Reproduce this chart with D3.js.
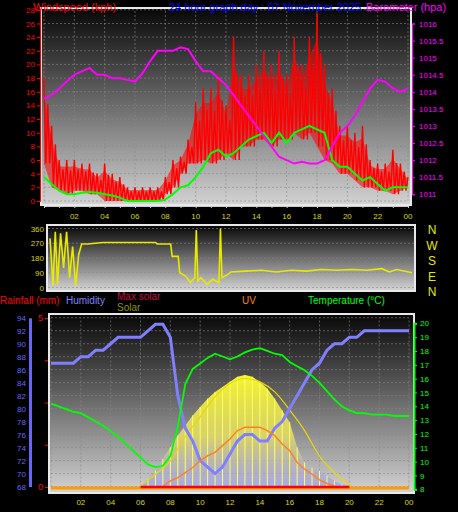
<!DOCTYPE html>
<html><head><meta charset="utf-8">
<script src="https://cdn.jsdelivr.net/npm/d3@7"></script>
<style>body{margin:0;background:#000}svg{display:block;font-family:"Liberation Sans",Arial,sans-serif}</style>
</head><body><div id="chart"></div>
<script>
// half-hourly samples 00:00 .. 24:00
const hours = d3.range(0, 24.01, 0.5);
const gustHi = [18,11,6,6,6,5.5,5.5,4,5.5,4,3.5,2,2,2,2,2,3.5,6,6.5,9,14.5,16.5,16.5,18.5,14,24,18.5,18.5,20,22,20,22,18.5,24,20,24,27.5,20,16.5,11,11,10,11,6,5.5,5.5,7.5,5.5,3.5];
const gustLo = [5.5,2,1.5,1,1.5,1.5,1,1,0,0,0,0,0,0,0,0,1,2,4,5.5,5.5,6,5.5,6,7,6,8,8,9,9,8,9,9,10,9,10,8,6,5.5,4,4,3,2,2,1.5,1.5,1,1.5,2];
const windAvg = [3.5,2.5,1.5,1,1,1.2,1.3,1.2,1,0.8,0.5,0,0,0,0,0,0.2,1,2,2.3,3.5,5,7,7.5,6.5,7,8,9,9.5,10,8.5,10,8.5,10,10.5,11,10.5,10,6,5,5,4,3,3.5,2.5,1.5,2,2,2];
const baro = [1013.8,1013.9,1014.1,1014.3,1014.5,1014.6,1014.7,1014.5,1014.5,1014.4,1014.4,1014.35,1014.3,1014.55,1014.9,1015.2,1015.2,1015.2,1015.3,1015.25,1014.9,1014.6,1014.6,1014.4,1014.2,1013.9,1013.6,1013.3,1013.0,1012.7,1012.4,1012.1,1012.0,1011.9,1011.95,1011.9,1011.9,1012.0,1012.4,1012.8,1013.0,1013.3,1013.7,1014.1,1014.35,1014.3,1014.1,1014.0,1014.1];
const dirTimes = [0,0.2,0.35,0.5,0.7,0.9,1.1,1.3,1.5,1.7,1.9,2.1,2.5,3,3.5,4,5,6,7,7.1,8,8.1,8.5,8.6,9,9.3,9.6,9.7,9.8,10,10.4,10.8,11.2,11.3,11.4,11.8,12,13,14,15,16,17,18,19,20,21,22,22.5,23,24];
const dirVals = [300,10,340,20,330,120,340,60,250,10,200,265,265,270,275,275,275,275,275,265,265,190,190,90,70,30,60,350,40,60,20,50,30,360,60,80,95,100,105,95,105,100,110,105,110,105,115,95,110,90];
const humidity = [87,87,87,87,88,88,89,89,90,91,91,91,91,92,93,93,91,82,77,75,72,71,70,71,73,75,76,76,75,75,77,78,80,82,84,86,87,89,90,90,91,91,92,92,92,92,92,92,92];
const temperature = [14.2,14.0,13.8,13.6,13.5,13.2,12.9,12.6,12.2,11.8,11.3,10.8,10.3,9.8,9.6,9.7,10.4,12.5,15.6,16.7,17.1,17.5,17.8,17.6,17.4,17.6,17.9,18.1,18.2,18.0,17.8,17.7,17.2,16.9,16.6,16.2,15.7,15.1,14.5,14.0,13.7,13.5,13.5,13.4,13.4,13.4,13.3,13.3,13.3];
const solarTimes = [6,6.5,7,7.5,8,8.5,9,9.5,10,10.5,11,11.5,12,12.5,13,13.5,14,14.5,15,15.5,16,16.5,17,17.5,18,18.5,19,19.5,20];
const solar = [5,40,90,160,230,300,360,420,470,520,560,590,620,650,660,650,620,580,520,450,380,230,140,110,90,60,30,10,0];
const maxSolarTimes = [6,7,8,9,10,11,12,13,14,15,16,17,18,19,20,20.2];
const maxSolar = [0,70,150,293,412,530,610,640,620,560,452,330,178,79,10,0];
const uvTimes = [7.5,8,8.5,9,9.5,10,10.5,11,11.5,12,12.5,13,13.5,14,14.5,15,15.5,16,16.5,17,17.5,18,18.5,19];
const uv = [0,0.3,0.5,0.8,1.1,1.5,1.8,2.0,2.4,2.8,3.3,3.5,3.5,3.5,3.3,3.0,2.5,2.1,1.4,1.0,0.7,0.36,0.15,0];
const hourTicks = [2,4,6,8,10,12,14,16,18,20,22,24];
const windTicks = [0,2,4,6,8,10,12,14,16,18,20,22,24,26,28];
const baroTicks = [1011,1011.5,1012,1012.5,1013,1013.5,1014,1014.5,1015,1015.5,1016];
const dirTicks = [0,90,180,270,360];
const compass = ["N","W","S","E","N"];
const humTicks = [68,70,72,74,76,78,80,82,84,86,88,90,92,94];
const tempTicks = [8,9,10,11,12,13,14,15,16,17,18,19,20];

const W = 458, H = 512;
const svg = d3.select("#chart").append("svg").attr("width", W).attr("height", H);
const defs = svg.append("defs");
function grad(id, stops) {
  const g = defs.append("linearGradient").attr("id", id).attr("x1", 0).attr("y1", 0).attr("x2", 0).attr("y2", 1);
  stops.forEach(s => g.append("stop").attr("offset", s[0]).attr("stop-color", s[1]).attr("stop-opacity", s[2] ?? 1));
}
grad("bg", [[0, "#080808"], [1, "#d2d2d2"]]);
grad("sol", [[0, "#ffff30", 0.95], [0.55, "#f0e860", 0.75], [1, "#9090ff", 0.55]]);

const hourLabel = h => String(h % 24).padStart(2, "0");
const col = { yel: "#d8d800", red: "#ff0000", mag: "#ff00ff", blue: "#6666ff", green: "#00ff00" };

function panel(x0, x1, y0, y1) {
  svg.append("rect").attr("x", x0 - 2).attr("y", y0 - 2).attr("width", x1 - x0 + 4).attr("height", y1 - y0 + 4).attr("fill", "#e8e8e8");
  svg.append("rect").attr("x", x0).attr("y", y0).attr("width", x1 - x0).attr("height", y1 - y0).attr("fill", "url(#bg)");
}
function grid(x, y, xs, ys) {
  const [xa, xb] = x.range(), [ya, yb] = y.range();
  const g = svg.append("g").attr("stroke", "#888").attr("stroke-opacity", 0.6).attr("stroke-dasharray", "2,2");
  g.selectAll(".v").data(xs).join("line").attr("x1", x).attr("x2", x).attr("y1", ya).attr("y2", yb);
  g.selectAll(".h").data(ys).join("line").attr("y1", y).attr("y2", y).attr("x1", xa).attr("x2", xb);
}
function axisStyle(g, color, size) {
  g.attr("font-size", size || 9).attr("font-family", "Liberation Sans, Arial").call(s => s.select(".domain").attr("stroke", color))
   .call(s => s.selectAll(".tick line").attr("stroke", color)).call(s => s.selectAll("text").attr("fill", color));
}

// ---------- panel 1: wind & barometer ----------
const x1 = d3.scaleLinear().domain([0, 24]).range([44, 408]);
const yW = d3.scaleLinear().domain([0, 28]).range([201, 9.8]);
const yB = d3.scaleLinear().domain([1011, 1016]).range([194.3, 23.5]);
panel(42, 410, 9, 204);
grid(x1, yW, d3.range(0, 25, 2), windTicks);
// gusts: zigzag between the high and low reading of each half hour
const gustPts = hours.flatMap((h, i) => [[h, gustHi[i]], [h + 0.12, gustLo[i]], [h + 0.25, gustHi[i] * 0.7 + gustLo[i] * 0.3], [h + 0.37, gustLo[i]]]);
svg.append("path").datum(hours).attr("fill", "#ff0000").attr("fill-opacity", 0.55)
  .attr("d", d3.area().x(h => x1(h)).y0((h, i) => yW(gustLo[i])).y1((h, i) => yW(gustHi[i] * 0.8 + gustLo[i] * 0.2)));
svg.append("path").datum(gustPts.filter(p => p[0] <= 24)).attr("fill", "none").attr("stroke", "#ff0000").attr("stroke-width", 1.4)
  .attr("d", d3.line().x(p => x1(p[0])).y(p => yW(p[1])));
svg.append("path").datum(hours).attr("fill", "none").attr("stroke", col.green).attr("stroke-width", 2)
  .attr("d", d3.line().x(h => x1(h)).y((h, i) => yW(windAvg[i])));
svg.append("path").datum(hours).attr("fill", "none").attr("stroke", col.mag).attr("stroke-width", 2)
  .attr("d", d3.line().x(h => x1(h)).y((h, i) => yB(baro[i])));
svg.append("g").attr("transform", "translate(40,0)").call(d3.axisLeft(yW).tickValues(windTicks).tickSize(3).tickPadding(2)).call(axisStyle, col.red, 8);
svg.append("g").attr("transform", "translate(412,0)").call(d3.axisRight(yB).tickValues(baroTicks).tickFormat(d => d).tickSize(3).tickPadding(4)).call(axisStyle, col.mag, 8);
svg.append("g").attr("transform", "translate(0,206)").call(d3.axisBottom(x1).tickValues(d3.range(0, 25, 1)).tickSize(2).tickFormat("")).call(axisStyle, "#ccc");
svg.append("text").attr("x", 33).attr("y", 11).attr("fill", col.red).attr("font-size", 11).text("Windspeed (kph)");
svg.append("text").attr("x", 169).attr("y", 11).attr("fill", "#0000ff").attr("font-size", 11).text("24 hour graph day : 07 November 2025");
svg.append("text").attr("x", 366).attr("y", 11).attr("fill", col.mag).attr("font-size", 11).text("Barometer (hpa)");

// ---------- panel 2: wind direction ----------
const yD = d3.scaleLinear().domain([0, 360]).range([287.5, 228.5]);
const x2 = d3.scaleLinear().domain([0, 24]).range([50, 412]);
panel(48, 414, 226, 290);
svg.append("g").attr("stroke", "#888").attr("stroke-opacity", 0.6).attr("stroke-dasharray", "2,2")
  .selectAll("line").data(dirTicks).join("line").attr("x1", 48).attr("x2", 414).attr("y1", yD).attr("y2", yD);
svg.append("path").datum(dirTimes).attr("fill", "none").attr("stroke", "#e8e800").attr("stroke-width", 1.6)
  .attr("d", d3.line().x(t => x2(t)).y((t, i) => yD(dirVals[i])));
svg.append("g").attr("transform", "translate(46,0)").call(d3.axisLeft(yD).tickValues(dirTicks).tickSize(0).tickPadding(2)).call(axisStyle, col.yel, 8)
  .call(g => g.select(".domain").remove());
svg.append("g").selectAll("text").data(hourTicks).join("text").attr("x", x1).attr("y", 219).attr("text-anchor", "middle")
  .attr("fill", col.yel).attr("font-size", 8).text(hourLabel);
svg.append("g").selectAll("text").data(compass).join("text").attr("x", 432).attr("y", (d, i) => 234 + i * 15.5)
  .attr("text-anchor", "middle").attr("fill", "#e8e800").attr("font-size", 12).text(d => d);

// ---------- panel 3: humidity, temperature, solar, uv, rain ----------
const x3 = d3.scaleLinear().domain([0, 24]).range([51, 409]);
const yH = d3.scaleLinear().domain([68, 94]).range([486.5, 317.8]);
const yT = d3.scaleLinear().domain([8, 20]).range([489.3, 323.3]);
const yS = d3.scaleLinear().domain([0, 1000]).range([486, 318]);
const yU = d3.scaleLinear().domain([0, 10]).range([486, 318]);
const yR = d3.scaleLinear().domain([0, 5]).range([487, 318]);
panel(50, 413, 315, 492);
grid(x3, yH, d3.range(0, 25, 2), humTicks);
svg.append("path").datum(solarTimes).attr("fill", "url(#sol)")
  .attr("d", d3.area().x(t => x3(t)).y0(yS(0)).y1((t, i) => yS(solar[i])));
svg.append("g").attr("stroke", "#ffff60").attr("stroke-width", 1).selectAll("line").data(solarTimes).join("line")
  .attr("x1", x3).attr("x2", x3).attr("y1", yS(0)).attr("y2", (t, i) => yS(solar[i]));
svg.append("path").datum(maxSolarTimes).attr("fill", "none").attr("stroke", "#e8d800").attr("stroke-width", 1.2)
  .attr("d", d3.line().x(t => x3(t)).y((t, i) => yS(maxSolar[i])).curve(d3.curveMonotoneX));
svg.append("path").datum(hours).attr("fill", "none").attr("stroke", "#8080ff").attr("stroke-width", 3)
  .attr("d", d3.line().x(h => x3(h)).y((h, i) => yH(humidity[i])));
svg.append("path").datum(uvTimes).attr("fill", "none").attr("stroke", "#ff8020").attr("stroke-width", 1.5)
  .attr("d", d3.line().x(t => x3(t)).y((t, i) => yU(uv[i])));
svg.append("path").datum(hours).attr("fill", "none").attr("stroke", col.green).attr("stroke-width", 1.8)
  .attr("d", d3.line().x(h => x3(h)).y((h, i) => yT(temperature[i])));
svg.append("line").attr("x1", x3(0)).attr("x2", x3(24)).attr("y1", yR(0) + 1).attr("y2", yR(0) + 1).attr("stroke", "#ff9900").attr("stroke-width", 3);
svg.append("line").attr("x1", x3(6)).attr("x2", x3(20)).attr("y1", yR(0)).attr("y2", yR(0)).attr("stroke", "#ff0000").attr("stroke-width", 2.5);
svg.append("g").attr("transform", "translate(30,0)").call(d3.axisLeft(yH).tickValues(humTicks).tickSize(0).tickPadding(4)).call(axisStyle, col.blue, 8)
  .call(g => g.select(".domain").attr("stroke-width", 3));
svg.append("g").attr("transform", "translate(48,0)").call(d3.axisLeft(yR).tickValues([0, 1.25, 2.5, 3.75, 5]).tickFormat(d => d % 5 === 0 ? d : "").tickSize(3).tickPadding(2))
  .call(axisStyle, col.red, 9).call(g => g.select(".domain").remove());
svg.append("g").attr("transform", "translate(414,0)").call(d3.axisRight(yT).tickValues(tempTicks).tickSize(3).tickPadding(3)).call(axisStyle, col.green, 8)
  .call(g => g.select(".domain").attr("stroke-width", 2));
svg.append("g").selectAll("text").data(hourTicks).join("text").attr("x", x3).attr("y", 505).attr("text-anchor", "middle")
  .attr("fill", col.yel).attr("font-size", 8).text(hourLabel);
const leg = [["Rainfall (mm)", 0, 304, col.red], ["Humidity", 66, 304, "#8080ff"], ["Max solar", 117, 300, "#c0103c"],
  ["Solar", 117, 311, "#909000"], ["UV", 242, 304, "#ff8020"], ["Temperature (°C)", 308, 304, col.green]];
svg.append("g").selectAll("text").data(leg).join("text").attr("x", d => d[1]).attr("y", d => d[2]).attr("fill", d => d[3])
  .attr("font-size", 10).text(d => d[0]);
</script></body></html>
